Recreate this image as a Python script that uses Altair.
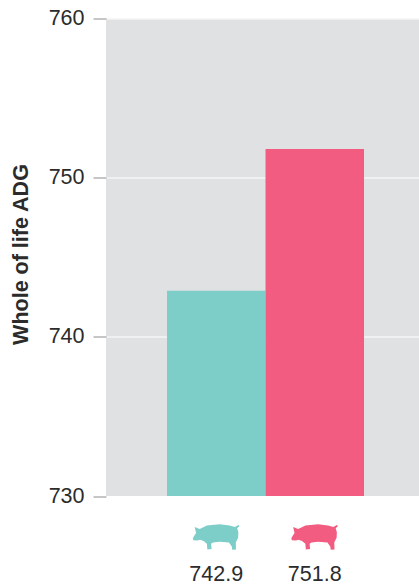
import altair as alt
import pandas as pd

groups = ["A", "B"]
values = [742.9, 751.8]
colors = ["#7dcdc8", "#f25c80"]
y_ticks = [730, 740, 750, 760]

# Pig silhouette in unit coordinates, centred on the origin
PIG = (
    "M-1,0.06 L-0.95,-0.03 L-0.86,-0.17 L-0.92,-0.43 L-0.71,-0.34 L-0.57,-0.4 "
    "L-0.4,-0.49 L0.14,-0.54 L0.57,-0.49 L0.79,-0.43 L0.94,-0.51 L0.99,-0.47 "
    "L0.89,-0.37 L0.94,-0.2 L0.93,0.03 L0.83,0.23 L0.84,0.53 L0.68,0.54 "
    "L0.66,0.4 L0.54,0.23 L0.14,0.2 L-0.14,0.23 L-0.22,0.29 L-0.2,0.51 "
    "L-0.38,0.53 L-0.4,0.29 L-0.54,0.17 L-0.69,0.12 L-0.8,0.15 L-0.97,0.14 Z"
)

df = pd.DataFrame({"group": groups, "value": values, "color": colors})

x = alt.X("group:N", axis=None,
          scale=alt.Scale(domain=groups, paddingInner=0, paddingOuter=0.589, align=0.526))
y_scale = alt.Scale(domain=[730, 760], nice=False, zero=False)
color = alt.Color("color:N", scale=None, legend=None)

bars = alt.Chart(df).mark_bar(clip=False).encode(
    x=x,
    y=alt.Y(
        "value:Q",
        scale=y_scale,
        axis=alt.Axis(
            values=y_ticks,
            format="d",
            title="Whole of life ADG",
            titleFont="Liberation Sans",
            titleFontSize=21.5,
            titleFontWeight="bold",
            titleColor="#2b2b2b",
            titlePadding=16,
            titleY=235.5,
            labelFont="Liberation Sans",
            labelFontSize=21.5,
            labelColor="#2b2b2b",
            labelPadding=9,
            domain=False,
            tickSize=13,
            tickColor="#b3b3b3",
            tickWidth=1.5,
            grid=True,
            gridColor="#ffffff",
            gridWidth=1,
        ),
    ),
    y2=alt.datum(730),
    color=color,
)

pigs = alt.Chart(df).mark_point(
    shape=PIG, size=2209, filled=True, opacity=1, strokeWidth=0
).encode(x=x, y=alt.value(518.5), color=color)

labels = alt.Chart(df).mark_text(
    font="Liberation Sans", fontSize=21.5, color="#2b2b2b", baseline="middle"
).encode(x=x, y=alt.value(556), text=alt.Text("value:Q", format=".1f"))

chart = (
    alt.layer(bars, pigs, labels)
    .properties(
        width=313,
        height=477.5,
        autosize=alt.AutoSizeParams(type="none"),
        padding={"left": 106, "top": 18.5, "right": 0, "bottom": 91},
    )
    .configure_view(fill="#e0e1e3", stroke=None)
)

chart.save("out.html", embed_options={"renderer": "svg", "actions": False})
